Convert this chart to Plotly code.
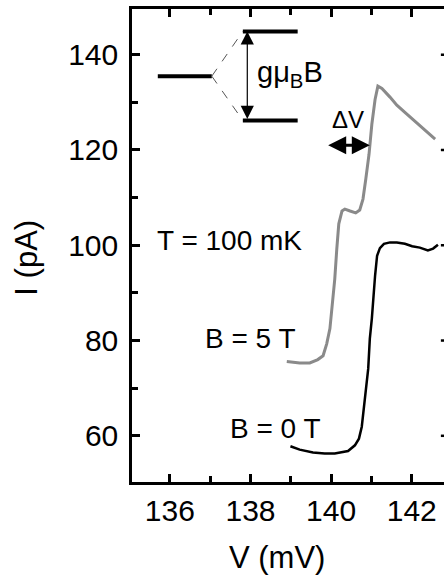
import plotly.graph_objects as go

# B = 5 T (gray) curve
v_5T = [138.90, 139.22, 139.47, 139.67, 139.80, 139.89, 139.97, 140.04, 140.09, 140.14,
        140.19, 140.27, 140.34, 140.47, 140.61, 140.71, 140.79, 140.86, 140.94, 141.01,
        141.09, 141.16, 141.26, 141.46, 141.63, 141.83, 142.03, 142.28, 142.58]
i_5T = [75.6, 75.3, 75.3, 76.0, 76.8, 79.3, 82.5, 88.7, 92.9, 99.2,
        104.5, 107.2, 107.6, 107.2, 106.8, 107.4, 109.7, 113.9, 119.1, 125.4,
        130.6, 133.4, 132.9, 131.1, 129.4, 127.9, 126.4, 124.4, 122.3]

# B = 0 T (black) curve
v_0T = [138.99, 139.22, 139.55, 139.84, 140.09, 140.22, 140.42, 140.59, 140.69, 140.76,
        140.81, 140.86, 140.92, 140.96, 141.01, 141.09, 141.14, 141.21, 141.31, 141.46,
        141.63, 141.83, 142.01, 142.20, 142.40, 142.53, 142.65]
i_0T = [57.8, 57.1, 56.5, 56.3, 56.3, 56.5, 56.8, 58.0, 59.4, 61.9,
        65.7, 70.9, 74.1, 80.4, 84.6, 93.6, 97.8, 99.4, 100.3, 100.6,
        100.6, 100.3, 99.8, 99.5, 98.9, 99.3, 100.1]

y_tick_values = [60, 80, 100, 120, 140]
x_range = [135.06, 142.80]
y_range = [50.3, 149.6]

FONT = "Liberation Sans, Arial, sans-serif"

fig = go.Figure()
fig.add_trace(go.Scatter(x=v_5T, y=i_5T, mode="lines",
                         line=dict(color="#8a8a8a", width=3), showlegend=False))
fig.add_trace(go.Scatter(x=v_0T, y=i_0T, mode="lines",
                         line=dict(color="black", width=2.5), showlegend=False))

# energy level diagram
level_lines = [
    (135.70, 137.04, 135.5, 135.5),
    (137.81, 139.17, 144.9, 144.9),
    (137.81, 139.17, 126.2, 126.2),
]
for x0, x1, y0, y1 in level_lines:
    fig.add_shape(type="line", x0=x0, x1=x1, y0=y0, y1=y1, xref="x", yref="y",
                  line=dict(color="black", width=4))
for y1 in (144.9, 126.2):
    fig.add_shape(type="line", x0=137.04, x1=137.81, y0=135.5, y1=y1, xref="x", yref="y",
                  line=dict(color="#555555", width=1, dash="dash"))

# mirrored tick marks at the (cropped) right edge
for yv in y_tick_values:
    fig.add_shape(type="line", x0=0.99, x1=1.0, y0=yv, y1=yv, xref="paper", yref="y",
                  line=dict(color="black", width=2.5))

annotations = [
    dict(x=137.92, y=144.9, ax=137.92, ay=126.2, axref="x", ayref="y", xref="x", yref="y",
         text="", showarrow=True, arrowhead=2, arrowside="end+start", arrowsize=2.2,
         arrowwidth=1.2, arrowcolor="black", standoff=0, startstandoff=0),
    dict(x=140.96, y=121.0, ax=139.89, ay=121.0, axref="x", ayref="y", xref="x", yref="y",
         text="", showarrow=True, arrowhead=2, arrowside="end+start", arrowsize=1.2,
         arrowwidth=3, arrowcolor="black", standoff=0, startstandoff=0),
    dict(x=138.11, y=135.9, xref="x", yref="y", text="gμ<sub>B</sub>B", showarrow=False,
         xanchor="left", yanchor="middle", font=dict(size=29)),
    dict(x=139.97, y=126.5, xref="x", yref="y", text="ΔV", showarrow=False,
         xanchor="left", yanchor="middle", font=dict(size=24)),
    dict(x=135.62, y=101.1, xref="x", yref="y", text="T = 100 mK", showarrow=False,
         xanchor="left", yanchor="middle", font=dict(size=28)),
    dict(x=136.82, y=80.4, xref="x", yref="y", text="B = 5 T", showarrow=False,
         xanchor="left", yanchor="middle", font=dict(size=28)),
    dict(x=137.43, y=61.5, xref="x", yref="y", text="B = 0 T", showarrow=False,
         xanchor="left", yanchor="middle", font=dict(size=28)),
    dict(x=0.465, y=-0.159, xref="paper", yref="paper", text="V (mV)", showarrow=False,
         xanchor="center", yanchor="middle", font=dict(size=31)),
    dict(x=-0.337, y=0.474, xref="paper", yref="paper", text="I (pA)", showarrow=False,
         xanchor="center", yanchor="middle", textangle=-90, font=dict(size=31)),
]

fig.update_layout(
    width=444, height=575,
    margin=dict(l=132, r=0, t=9, b=93),
    plot_bgcolor="white", paper_bgcolor="white",
    font=dict(family=FONT, color="black", size=28),
    annotations=annotations,
    xaxis=dict(range=x_range, dtick=2, tick0=0, ticks="inside", ticklen=8, tickwidth=2.5,
               tickcolor="black", showline=True, linewidth=2.5, linecolor="black",
               mirror="ticks", showgrid=False, zeroline=False,
               tickfont=dict(size=30), ticklabelstandoff=0,
               minor=dict(dtick=1, tick0=0, ticks="inside", ticklen=6, tickwidth=2.5,
                          tickcolor="black", showgrid=False)),
    yaxis=dict(range=y_range, dtick=20, tick0=0, ticks="inside", ticklen=8, tickwidth=2.5,
               tickcolor="black", showline=True, linewidth=2.5, linecolor="black",
               mirror=False, showgrid=False, zeroline=False,
               tickfont=dict(size=30), ticklabelstandoff=5,
               minor=dict(dtick=10, tick0=0, ticks="inside", ticklen=6, tickwidth=2.5,
                          tickcolor="black", showgrid=False)),
)

fig.write_html("out.html")
